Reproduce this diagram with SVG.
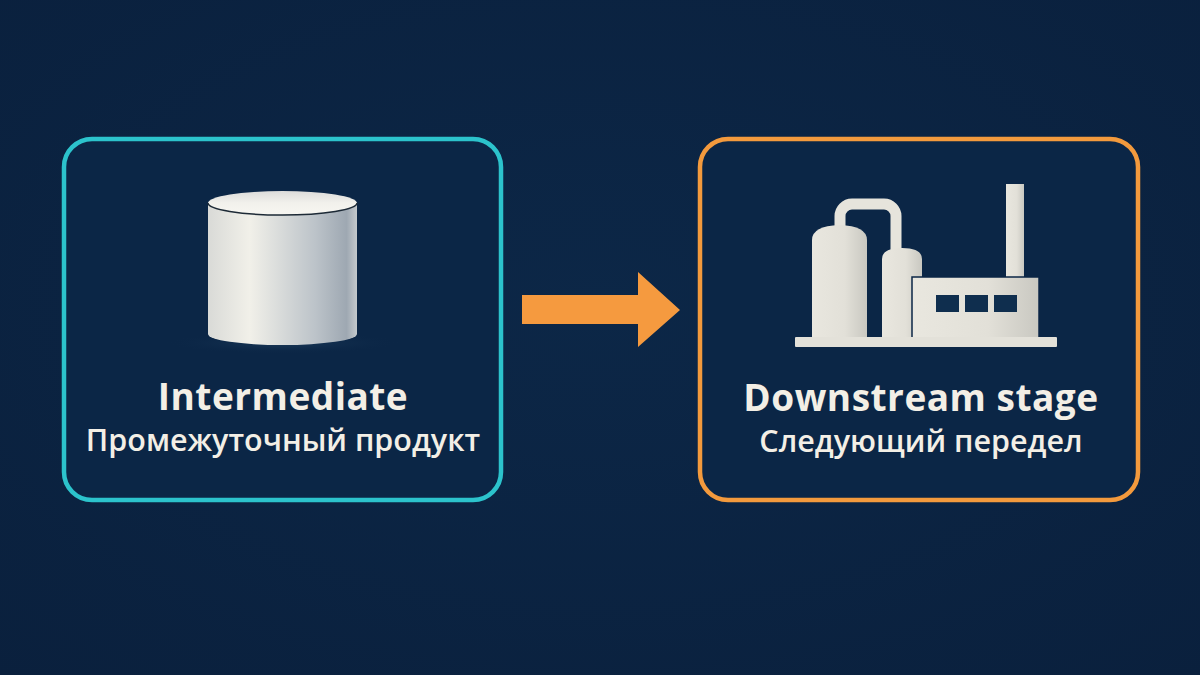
<svg xmlns="http://www.w3.org/2000/svg" width="1200" height="675" viewBox="0 0 1200 675">
<defs>
<style>
.box{fill:#0b2646;stroke-width:4.5}
.title{font-family:"Open Sans","Noto Sans","Liberation Sans",sans-serif;font-weight:700;font-size:37px;letter-spacing:0.5px;fill:#f3efe6;text-anchor:middle}
.sub{font-family:"Open Sans","Noto Sans","Liberation Sans",sans-serif;font-weight:600;font-size:30.5px;fill:#f3efe6;text-anchor:middle}
.ind{fill:url(#metal)}
</style>
<radialGradient id="bg" cx="0.5" cy="0.45" r="0.75">
<stop offset="0" stop-color="#0c2747"/>
<stop offset="1" stop-color="#0a203d"/>
</radialGradient>
<linearGradient id="cyl" x1="0" y1="0" x2="1" y2="0">
<stop offset="0" stop-color="#d9dad7"/>
<stop offset="0.28" stop-color="#f1f0e9"/>
<stop offset="0.72" stop-color="#bcc3c9"/>
<stop offset="0.93" stop-color="#9ea8b2"/>
<stop offset="1" stop-color="#c4c9cd"/>
</linearGradient>
<linearGradient id="cyltop" x1="0" y1="0" x2="0" y2="1">
<stop offset="0" stop-color="#dcdcda"/>
<stop offset="0.5" stop-color="#f2f1ec"/>
<stop offset="1" stop-color="#f7f6f1"/>
</linearGradient>
<linearGradient id="metal" x1="0" y1="0" x2="1" y2="0">
<stop offset="0" stop-color="#e9e7df"/>
<stop offset="0.6" stop-color="#e2e0d8"/>
<stop offset="1" stop-color="#c9c8c1"/>
</linearGradient>
<radialGradient id="shadow" cx="0.5" cy="0.5" r="0.5">
<stop offset="0" stop-color="#1d3c5b" stop-opacity="0.9"/>
<stop offset="1" stop-color="#0b2646" stop-opacity="0"/>
</radialGradient>
</defs>
<rect width="1200" height="675" fill="url(#bg)"/>

<g id="connectors">
<path d="M522,295 H638 V272 L680,310 L638,347 V324 H522 Z" fill="#f59a3f"/>
</g>

<g id="intermediate">
<rect class="box" x="64" y="139" width="437" height="361" rx="28" stroke="#2cc3cc"/>
<ellipse cx="283" cy="343" rx="118" ry="11" fill="url(#shadow)"/>
<path d="M208,203 V334 A74.5,11 0 0 0 357,334 V203 Z" fill="url(#cyl)"/>
<ellipse cx="282.5" cy="203" rx="74.5" ry="12" fill="url(#cyltop)"/>
<path d="M208,203 A74.5,12 0 0 0 357,203" fill="none" stroke="#1d2a36" stroke-width="1.5"/>
<text class="title" x="283" y="410">Intermediate</text>
<text class="sub" x="283" y="451">Промежуточный продукт</text>
</g>

<g id="downstream">
<rect class="box" x="700" y="139" width="438" height="361" rx="28" stroke="#f39a3d"/>
<path d="M840,228 V216 A12,12 0 0 1 852,204 H884 A12,12 0 0 1 896,216 V252" fill="none" stroke="#e6e4dc" stroke-width="11"/>
<path d="M812,337 V240 Q812,226 839.5,225 Q867,226 867,240 V337 Z" class="ind"/>
<path d="M882,337 V259 Q882,248 902,248 Q922,248 922,259 V337 Z" class="ind"/>
<rect x="1006" y="184" width="18" height="94" class="ind"/>
<rect x="912" y="277" width="127" height="61" class="ind" stroke="#0b2646" stroke-width="1.5"/>
<rect x="936" y="295" width="23" height="17" fill="#0f2e4e"/>
<rect x="965" y="295" width="23" height="17" fill="#0f2e4e"/>
<rect x="994" y="295" width="23" height="17" fill="#0f2e4e"/>
<rect x="795" y="337" width="262" height="10" rx="1" fill="#e3e1d9"/>
<text class="title" x="921" y="411">Downstream stage</text>
<text class="sub" x="921" y="452">Следующий передел</text>
</g>
</svg>
